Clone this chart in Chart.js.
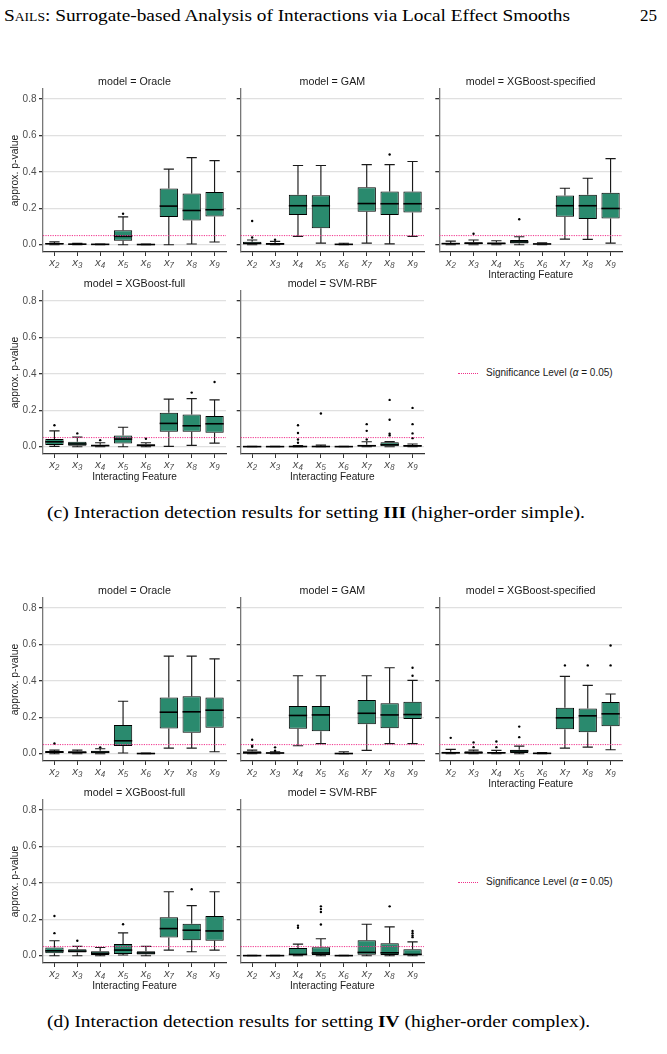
<!DOCTYPE html>
<html>
<head>
<meta charset="utf-8">
<script src="https://cdn.jsdelivr.net/npm/chart.js@4.4.0/dist/chart.umd.min.js"></script>
<style>
  body { margin: 0; background: #fff; width: 667px; height: 1054px; position: relative; overflow: hidden; }
  .pg { position: absolute; font-family: "Liberation Serif", serif; color: #000; white-space: nowrap; transform-origin: 0 50%; }
  canvas { position: absolute; }
  .leg { position: absolute; font: 10px "Liberation Sans", sans-serif; color: #1a1a1a; white-space: nowrap; }
  .leg .ln { display: inline-block; width: 20px; border-top: 1px dotted #f0308a; vertical-align: middle; margin-right: 8px; }
</style>
</head>
<body>
<div class="pg" data-w="566" style="left:4px;top:6px;font-size:17px"><span style="font-variant:small-caps">Sails</span>: Surrogate-based Analysis of Interactions via Local Effect Smooths</div>
<div class="pg" style="left:640px;top:6px;font-size:17px">25</div>

<div class="leg" style="left:458px;top:367px"><span class="ln"></span>Significance Level (<i>α</i> = 0.05)</div>
<div class="leg" style="left:458px;top:876px"><span class="ln"></span>Significance Level (<i>α</i> = 0.05)</div>

<div class="pg" data-w="538" style="left:47px;top:503px;font-size:17px">(c) Interaction detection results for setting <b>III</b> (higher-order simple).</div>
<div class="pg" data-w="543" style="left:47px;top:1012px;font-size:17px">(d) Interaction detection results for setting <b>IV</b> (higher-order complex).</div>

<div id="figs"></div>

<script>
// categories and models
const FEATURES = ['x2', 'x3', 'x4', 'x5', 'x6', 'x7', 'x8', 'x9'];
const MODELS = ['Oracle', 'GAM', 'XGBoost-specified', 'XGBoost-full', 'SVM-RBF'];
const Y_TICKS = [0, 0.2, 0.4, 0.6, 0.8];
const SIG_LEVEL = 0.05;

// setting III: [lower whisker, q1, median, q3, upper whisker] per feature
const III_ORACLE = [
  [0, 0.002, 0.005, 0.009, 0.016], [0, 0.001, 0.003, 0.005, 0.007], [0, 0.001, 0.002, 0.003, 0.004],
  [0, 0.022, 0.046, 0.08, 0.153], [0, 0.0005, 0.001, 0.002, 0.003], [0, 0.152, 0.212, 0.309, 0.415],
  [0.004, 0.133, 0.188, 0.281, 0.478], [0.015, 0.155, 0.192, 0.289, 0.462]
];
const III_GAM = [
  [0, 0.002, 0.007, 0.016, 0.026], [0, 0.001, 0.004, 0.01, 0.018], [0.046, 0.163, 0.214, 0.274, 0.435],
  [0.009, 0.091, 0.214, 0.272, 0.435], [0, 0.001, 0.002, 0.004, 0.008], [0.009, 0.181, 0.226, 0.316, 0.44],
  [0.005, 0.163, 0.225, 0.292, 0.44], [0.046, 0.177, 0.225, 0.292, 0.457]
];
const III_XGB_SPEC = [
  [0, 0.002, 0.006, 0.01, 0.02], [0, 0.002, 0.008, 0.014, 0.026], [0, 0.002, 0.007, 0.012, 0.022],
  [0, 0.007, 0.015, 0.026, 0.044], [0, 0.002, 0.004, 0.006, 0.01], [0.031, 0.153, 0.214, 0.27, 0.31],
  [0.029, 0.141, 0.214, 0.274, 0.365], [0.009, 0.144, 0.199, 0.285, 0.473]
];
const III_XGB_FULL = [
  [0.002, 0.009, 0.027, 0.042, 0.087], [0, 0.005, 0.015, 0.027, 0.053], [0, 0.002, 0.006, 0.011, 0.022],
  [0, 0.018, 0.042, 0.062, 0.107], [0, 0.004, 0.007, 0.013, 0.022], [0.002, 0.082, 0.128, 0.186, 0.261],
  [0.007, 0.082, 0.115, 0.177, 0.264], [0.02, 0.077, 0.126, 0.169, 0.257]
];
const III_SVM = [
  [0, 0, 0.0005, 0.001, 0.002], [0, 0, 0.0005, 0.001, 0.002], [0, 0.0005, 0.001, 0.004, 0.006],
  [0, 0.0005, 0.001, 0.003, 0.009], [0, 0, 0.0005, 0.001, 0.002], [0, 0.002, 0.005, 0.011, 0.027],
  [0, 0.002, 0.011, 0.024, 0.028], [0, 0.002, 0.004, 0.009, 0.015]
];
const III_ORACLE_OUT = [['x5', 0.17]];
const III_GAM_OUT = [['x2', 0.04], ['x2', 0.13], ['x3', 0.027], ['x8', 0.495]];
const III_XGB_SPEC_OUT = [['x3', 0.06], ['x5', 0.14]];
const III_XGB_FULL_OUT = [['x2', 0.118], ['x3', 0.073], ['x4', 0.036], ['x6', 0.044], ['x8', 0.297], ['x9', 0.355]];
const III_SVM_OUT = [['x4', 0.022], ['x4', 0.04], ['x4', 0.075], ['x4', 0.118], ['x5', 0.182],
  ['x7', 0.04], ['x7', 0.087], ['x7', 0.124], ['x8', 0.062], ['x8', 0.071], ['x8', 0.148], ['x8', 0.257],
  ['x9', 0.047], ['x9', 0.073], ['x9', 0.124], ['x9', 0.213]];

// setting IV
const IV_ORACLE = [
  [0, 0.004, 0.009, 0.015, 0.02], [0, 0.002, 0.007, 0.013, 0.02], [0, 0.002, 0.009, 0.016, 0.027],
  [0.004, 0.042, 0.071, 0.157, 0.288], [0, 0.0005, 0.001, 0.002, 0.004], [0.031, 0.138, 0.228, 0.308, 0.536],
  [0.031, 0.115, 0.23, 0.315, 0.536], [0.011, 0.142, 0.239, 0.308, 0.521]
];
const IV_GAM = [
  [0, 0.0005, 0.005, 0.013, 0.02], [0, 0.001, 0.004, 0.007, 0.011], [0.044, 0.137, 0.21, 0.262, 0.428],
  [0.055, 0.124, 0.213, 0.262, 0.428], [0, 0.0005, 0.001, 0.002, 0.011], [0.018, 0.162, 0.222, 0.295, 0.428],
  [0.055, 0.14, 0.213, 0.277, 0.472], [0.055, 0.19, 0.215, 0.286, 0.403]
];
const IV_XGB_SPEC = [
  [0, 0.001, 0.005, 0.011, 0.024], [0, 0.001, 0.005, 0.013, 0.02], [0, 0.001, 0.005, 0.009, 0.018],
  [0, 0.004, 0.015, 0.022, 0.042], [0, 0.0005, 0.002, 0.005, 0.006], [0.031, 0.135, 0.197, 0.253, 0.425],
  [0.036, 0.118, 0.208, 0.248, 0.375], [0.022, 0.151, 0.219, 0.284, 0.328]
];
const IV_XGB_FULL = [
  [0, 0.013, 0.027, 0.045, 0.082], [0, 0.018, 0.025, 0.035, 0.051], [0, 0.004, 0.013, 0.024, 0.045],
  [0.004, 0.009, 0.031, 0.064, 0.125], [0, 0.007, 0.015, 0.025, 0.051], [0.031, 0.1, 0.149, 0.211, 0.351],
  [0.022, 0.085, 0.14, 0.175, 0.275], [0.031, 0.082, 0.136, 0.218, 0.351]
];
const IV_SVM = [
  [0, 0, 0.0005, 0.001, 0.002], [0, 0, 0.0005, 0.001, 0.002], [0, 0.002, 0.007, 0.042, 0.064],
  [0, 0.004, 0.015, 0.047, 0.093], [0, 0, 0.0005, 0.001, 0.002], [0, 0.005, 0.018, 0.085, 0.173],
  [0, 0.004, 0.016, 0.069, 0.158], [0, 0.004, 0.007, 0.035, 0.076]
];
const IV_ORACLE_OUT = [['x2', 0.056], ['x4', 0.035]];
const IV_GAM_OUT = [['x2', 0.038], ['x2', 0.044], ['x2', 0.077], ['x3', 0.016], ['x3', 0.035], ['x9', 0.428], ['x9', 0.472]];
const IV_XGB_SPEC_OUT = [['x2', 0.087], ['x3', 0.036], ['x3', 0.062], ['x4', 0.036], ['x4', 0.067],
  ['x5', 0.091], ['x5', 0.149], ['x7', 0.485], ['x8', 0.485], ['x9', 0.485], ['x9', 0.594]];
const IV_XGB_FULL_OUT = [['x2', 0.124], ['x2', 0.218], ['x3', 0.082], ['x5', 0.173], ['x8', 0.365]];
const IV_SVM_OUT = [['x4', 0.153], ['x4', 0.165], ['x5', 0.171], ['x5', 0.24], ['x5', 0.256], ['x5', 0.271],
  ['x8', 0.271], ['x9', 0.102], ['x9', 0.111], ['x9', 0.124], ['x9', 0.136]];

const FIGURES = [
  { top: 0, stats: [III_ORACLE, III_GAM, III_XGB_SPEC, III_XGB_FULL, III_SVM],
    outs: [III_ORACLE_OUT, III_GAM_OUT, III_XGB_SPEC_OUT, III_XGB_FULL_OUT, III_SVM_OUT] },
  { top: 509, stats: [IV_ORACLE, IV_GAM, IV_XGB_SPEC, IV_XGB_FULL, IV_SVM],
    outs: [IV_ORACLE_OUT, IV_GAM_OUT, IV_XGB_SPEC_OUT, IV_XGB_FULL_OUT, IV_SVM_OUT] }
];

const BOX_FILL = '#2a8a6e';
const SIG_COLOR = '#f0308a';
const SUB = { '2': '₂', '3': '₃', '4': '₄', '5': '₅', '6': '₆', '7': '₇', '8': '₈', '9': '₉' };
const COLS = [
  { left: 0, width: 230, yW: 43, padR: 4 },
  { left: 230, width: 198, yW: 10.7, padR: 4 },
  { left: 428, width: 198, yW: 11.3, padR: 3.3 }
];

// stretch the serif page texts to the widths they have on the page
document.querySelectorAll('.pg[data-w]').forEach(el => {
  el.style.transform = 'scaleX(' + (+el.dataset.w / el.getBoundingClientRect().width) + ')';
});

// whiskers, medians, significance line and panel texts
const boxParts = {
  id: 'boxParts',
  beforeDatasetsDraw(chart) {
    const ctx = chart.ctx, y = chart.scales.y;
    const stats = chart.data.datasets[0].stats;
    const bars = chart.getDatasetMeta(0).data;
    ctx.save();
    ctx.strokeStyle = '#1a1a1a';
    ctx.lineWidth = 1.15;
    stats.forEach((s, i) => {
      const x = bars[i].x, cap = bars[i].width * 0.28;
      ctx.beginPath();
      ctx.moveTo(x, y.getPixelForValue(s[0])); ctx.lineTo(x, y.getPixelForValue(s[1]));
      ctx.moveTo(x, y.getPixelForValue(s[3])); ctx.lineTo(x, y.getPixelForValue(s[4]));
      ctx.moveTo(x - cap, y.getPixelForValue(s[0])); ctx.lineTo(x + cap, y.getPixelForValue(s[0]));
      ctx.moveTo(x - cap, y.getPixelForValue(s[4])); ctx.lineTo(x + cap, y.getPixelForValue(s[4]));
      ctx.stroke();
    });
    ctx.restore();
  },
  afterDatasetsDraw(chart) {
    const ctx = chart.ctx, y = chart.scales.y, a = chart.chartArea;
    const stats = chart.data.datasets[0].stats;
    const bars = chart.getDatasetMeta(0).data;
    ctx.save();
    ctx.strokeStyle = '#000';
    ctx.lineWidth = 1.6;
    stats.forEach((s, i) => {
      const x = bars[i].x, w = bars[i].width / 2, py = y.getPixelForValue(s[2]);
      ctx.beginPath(); ctx.moveTo(x - w, py); ctx.lineTo(x + w, py); ctx.stroke();
    });
    const sy = y.getPixelForValue(SIG_LEVEL);
    ctx.strokeStyle = SIG_COLOR;
    ctx.lineWidth = 1;
    ctx.setLineDash([1.2, 1.2]);
    ctx.beginPath(); ctx.moveTo(a.left, sy); ctx.lineTo(a.right, sy); ctx.stroke();
    ctx.restore();
  },
  afterDraw(chart) {
    const ctx = chart.ctx, a = chart.chartArea, o = chart.options.plugins.boxParts;
    const cx = (a.left + a.right) / 2;
    ctx.save();
    ctx.fillStyle = '#1a1a1a';
    ctx.textAlign = 'center';
    ctx.textBaseline = 'middle';
    ctx.font = '10.7px "Liberation Sans", sans-serif';
    ctx.fillText('model = ' + o.model, cx, a.top - 7);
    ctx.font = '10.1px "Liberation Sans", sans-serif';
    if (o.xTitle) ctx.fillText('Interacting Feature', cx, a.bottom + 23.5);
    if (o.yTitle) {
      ctx.font = '10.4px "Liberation Sans", sans-serif';
      ctx.translate(15, (a.top + a.bottom) / 2);
      ctx.rotate(-Math.PI / 2);
      ctx.fillText('approx. p-value', 0, 0);
    }
    ctx.restore();
  }
};

const figs = document.getElementById('figs');
FIGURES.forEach(fig => {
  MODELS.forEach((model, k) => {
    const row = k < 3 ? 0 : 1, col = COLS[k % 3];
    const cv = document.createElement('canvas');
    cv.width = col.width; cv.height = 210;
    cv.style.left = col.left + 'px';
    cv.style.top = (70 + row * 202 + fig.top) + 'px';
    figs.appendChild(cv);
    const stats = fig.stats[k];
    new Chart(cv, {
      type: 'bar',
      data: {
        labels: FEATURES,
        datasets: [
          { type: 'bar', data: stats.map(s => [s[1], s[3]]), stats: stats,
            backgroundColor: BOX_FILL, borderColor: '#000', borderWidth: 1, borderSkipped: false,
            barPercentage: 0.8, categoryPercentage: 1 },
          { type: 'scatter', data: fig.outs[k].map(p => ({ x: p[0], y: p[1] })),
            pointRadius: 1.2, pointBackgroundColor: '#000', pointBorderWidth: 0 }
        ]
      },
      options: {
        responsive: false, animation: false, devicePixelRatio: 1,
        layout: { padding: { top: 19, right: col.padR, left: 0, bottom: 0 } },
        plugins: {
          legend: { display: false }, tooltip: { enabled: false },
          boxParts: { model: model, xTitle: k >= 2, yTitle: k % 3 === 0 }
        },
        scales: {
          x: {
            type: 'category', offset: true,
            afterFit: s => { s.height = 28; },
            grid: { display: true, offset: false, drawOnChartArea: false, tickColor: '#333', tickLength: 4 },
            border: { color: '#333', width: 1.2 },
            ticks: { padding: 0, autoSkip: false, maxRotation: 0, color: '#4d4d4d',
              font: { family: 'Liberation Sans', size: 11.5, style: 'italic' },
              callback: (v, i) => 'x' + SUB[FEATURES[i].slice(1)] }
          },
          y: {
            type: 'linear', min: -0.04, max: 0.855,
            afterBuildTicks: s => { s.ticks = Y_TICKS.map(v => ({ value: v })); },
            afterFit: s => { s.width = col.yW; },
            grid: { color: '#e0e0e0', lineWidth: 1.3, tickColor: '#333', tickLength: 4 },
            border: { color: '#777', width: 1.3 },
            ticks: { display: k % 3 === 0, padding: 2.5, color: '#4d4d4d',
              font: { family: 'Liberation Sans', size: 10 },
              callback: v => v.toFixed(1) }
          }
        }
      },
      plugins: [boxParts]
    });
  });
});
</script>
</body>
</html>
